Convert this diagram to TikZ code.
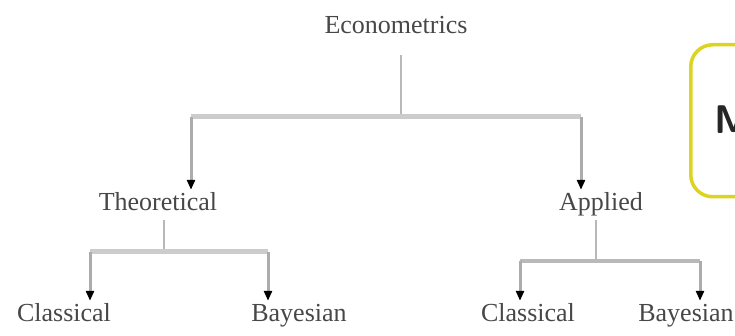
\documentclass[tikz,border=0pt]{standalone}
\usepackage{fontspec}
\setmainfont{Liberation Serif}
\usetikzlibrary{arrows.meta}
\begin{document}
\begin{tikzpicture}[x=1pt,y=1pt,
  lbl/.style={font=\fontsize{26}{28}\selectfont, text=black!72, inner sep=3pt, text height=18pt, text depth=6pt},
  stem/.style={draw=gray!55, line width=2pt},
  bar/.style={draw=gray!40, line width=5pt},
  arr/.style={draw=gray!65, line width=3pt, -{Stealth[black,length=10pt,width=8pt,inset=0pt]}},
  mbox/.style={draw=yellow!65!olive!85, line width=3.5pt, rounded corners=22pt, fill=white}
]
\useasboundingbox (0,0) rectangle (735,336);
\clip (0,0) rectangle (735,336);
% nodes
\node[lbl] (eco) at (396,308) {Econometrics};
\node[lbl] (theo) at (158,131) {Theoretical};
\node[lbl] (app) at (601,131) {Applied};
\node[lbl] (c1) at (64,20) {Classical};
\node[lbl] (b1) at (299,20) {Bayesian};
\node[lbl] (c2) at (528,20) {Classical};
\node[lbl] (b2) at (686,20) {Bayesian};
% yellow box
\node[mbox, minimum width=120pt, minimum height=152pt, anchor=north west] (box) at (689,293) {};
\node[font=\fontsize{40}{42}\sffamily\bfseries, text=black!85, anchor=west, inner sep=0pt] (m) at (714,216) {M};
% level 1 connectors
\coordinate (j1) at (401,219);
\coordinate (l1) at (191,219);
\coordinate (r1) at (581,219);
\draw[stem] (eco.south -| j1) ++(0,-12) -- (j1);
\draw[bar] (l1) -- (r1);
\draw[arr] (l1) -- (l1 |- theo.north);
\draw[arr] (r1) -- (r1 |- app.north);
% theoretical
\coordinate (j2) at (164,84);
\coordinate (l2) at (90,84);
\coordinate (r2) at (268,84);
\draw[stem] (theo.south -| j2) -- (j2);
\draw[bar] (l2) -- (r2);
\draw[arr] (l2) -- (l2 |- c1.north);
\draw[arr] (r2) -- (r2 |- b1.north);
% applied
\coordinate (j3) at (596,75);
\coordinate (l3) at (520,75);
\coordinate (r3) at (700,75);
\draw[stem] (app.south -| j3) -- (j3);
\draw[bar, line width=3.5pt, draw=gray!55] (l3) -- (r3);
\draw[arr] (l3) -- (l3 |- c2.north);
\draw[arr] (r3) -- (r3 |- b2.north);
\end{tikzpicture}
\end{document}
